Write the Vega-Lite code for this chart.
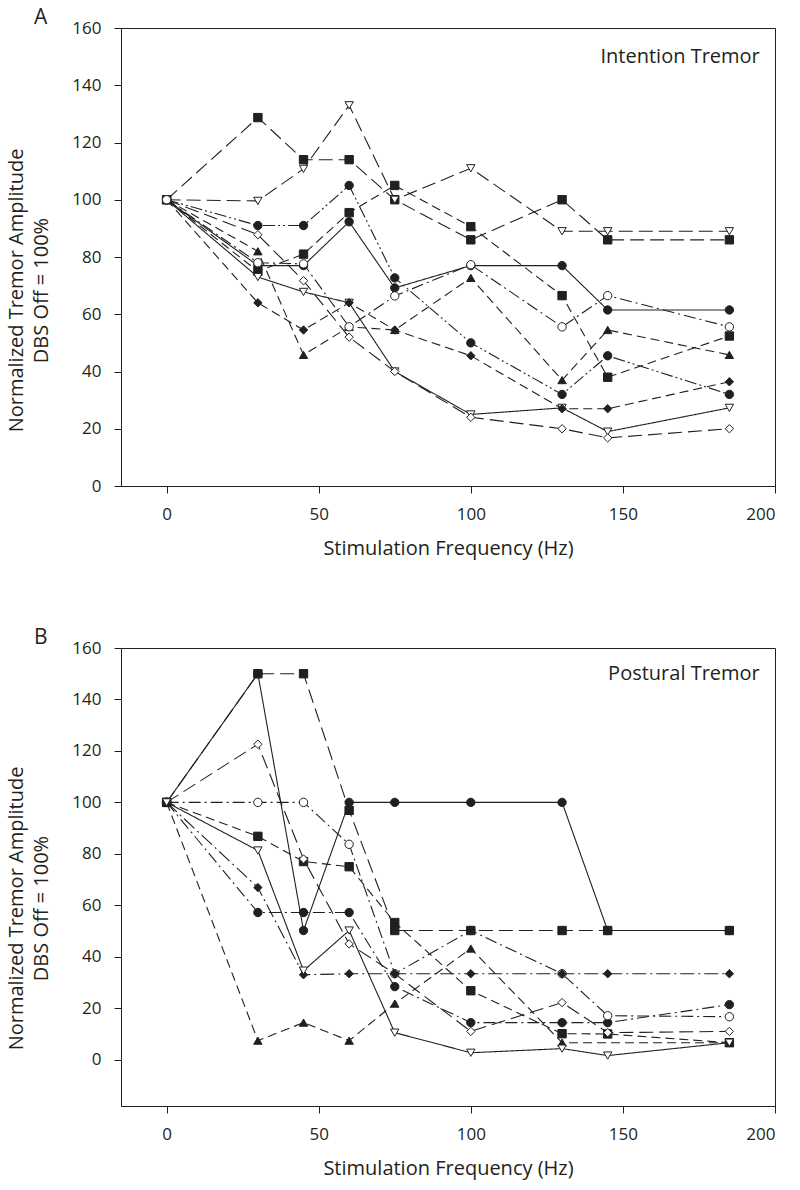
{
  "$schema": "https://vega.github.io/schema/vega-lite/v6.json",
  "background": "white",
  "padding": {"left": 6, "top": 6, "right": 5, "bottom": 5},
  "config": {
    "font": "Open Sans",
    "view": {"stroke": "#231f20", "strokeWidth": 1},
    "axis": {"domainColor": "#231f20", "tickColor": "#231f20", "labelColor": "#231f20", "titleColor": "#231f20", "labelFont": "Open Sans", "titleFont": "Open Sans", "labelFontSize": 17, "titleFontSize": 20, "titleFontWeight": "normal", "grid": false, "tickSize": 7, "labelPadding": 13},
    "title": {"font": "Open Sans", "fontSize": 21, "fontWeight": "normal", "color": "#231f20"}
  },
  "datasets": {"tremor": [
    {"panel":"A","series":"A1","freq":0,"amp":100},{"panel":"A","series":"A1","freq":30,"amp":128.7},{"panel":"A","series":"A1","freq":45,"amp":114},{"panel":"A","series":"A1","freq":60,"amp":114},{"panel":"A","series":"A1","freq":75,"amp":100},{"panel":"A","series":"A1","freq":100,"amp":86},{"panel":"A","series":"A1","freq":130,"amp":100},{"panel":"A","series":"A1","freq":145,"amp":86},{"panel":"A","series":"A1","freq":185,"amp":86},
    {"panel":"A","series":"A2","freq":0,"amp":100},{"panel":"A","series":"A2","freq":30,"amp":75},{"panel":"A","series":"A2","freq":45,"amp":81},{"panel":"A","series":"A2","freq":60,"amp":95.5},{"panel":"A","series":"A2","freq":75,"amp":105},{"panel":"A","series":"A2","freq":100,"amp":90.6},{"panel":"A","series":"A2","freq":130,"amp":66.5},{"panel":"A","series":"A2","freq":145,"amp":38},{"panel":"A","series":"A2","freq":185,"amp":52.4},
    {"panel":"A","series":"A3","freq":0,"amp":100},{"panel":"A","series":"A3","freq":30,"amp":99.6},{"panel":"A","series":"A3","freq":45,"amp":110.8},{"panel":"A","series":"A3","freq":60,"amp":133},{"panel":"A","series":"A3","freq":75,"amp":100},{"panel":"A","series":"A3","freq":100,"amp":111},{"panel":"A","series":"A3","freq":130,"amp":89},{"panel":"A","series":"A3","freq":145,"amp":89},{"panel":"A","series":"A3","freq":185,"amp":89},
    {"panel":"A","series":"A4","freq":0,"amp":100},{"panel":"A","series":"A4","freq":30,"amp":73},{"panel":"A","series":"A4","freq":45,"amp":67.8},{"panel":"A","series":"A4","freq":60,"amp":64},{"panel":"A","series":"A4","freq":75,"amp":40},{"panel":"A","series":"A4","freq":100,"amp":25},{"panel":"A","series":"A4","freq":130,"amp":27.3},{"panel":"A","series":"A4","freq":145,"amp":19},{"panel":"A","series":"A4","freq":185,"amp":27.3},
    {"panel":"A","series":"A5","freq":0,"amp":100},{"panel":"A","series":"A5","freq":30,"amp":87.8},{"panel":"A","series":"A5","freq":45,"amp":71.7},{"panel":"A","series":"A5","freq":60,"amp":52},{"panel":"A","series":"A5","freq":75,"amp":40},{"panel":"A","series":"A5","freq":100,"amp":24},{"panel":"A","series":"A5","freq":130,"amp":20},{"panel":"A","series":"A5","freq":145,"amp":16.8},{"panel":"A","series":"A5","freq":185,"amp":20},
    {"panel":"A","series":"A6","freq":0,"amp":100},{"panel":"A","series":"A6","freq":30,"amp":64},{"panel":"A","series":"A6","freq":45,"amp":54.5},{"panel":"A","series":"A6","freq":60,"amp":64},{"panel":"A","series":"A6","freq":75,"amp":54.5},{"panel":"A","series":"A6","freq":100,"amp":45.5},{"panel":"A","series":"A6","freq":130,"amp":27},{"panel":"A","series":"A6","freq":145,"amp":27},{"panel":"A","series":"A6","freq":185,"amp":36.4},
    {"panel":"A","series":"A7","freq":0,"amp":100},{"panel":"A","series":"A7","freq":30,"amp":82},{"panel":"A","series":"A7","freq":45,"amp":45.8},{"panel":"A","series":"A7","freq":60,"amp":55.6},{"panel":"A","series":"A7","freq":75,"amp":54.5},{"panel":"A","series":"A7","freq":100,"amp":72.7},{"panel":"A","series":"A7","freq":130,"amp":37},{"panel":"A","series":"A7","freq":145,"amp":54.5},{"panel":"A","series":"A7","freq":185,"amp":45.8},
    {"panel":"A","series":"A8","freq":0,"amp":100},{"panel":"A","series":"A8","freq":30,"amp":91},{"panel":"A","series":"A8","freq":45,"amp":91},{"panel":"A","series":"A8","freq":60,"amp":105},{"panel":"A","series":"A8","freq":75,"amp":72.7},{"panel":"A","series":"A8","freq":100,"amp":50},{"panel":"A","series":"A8","freq":130,"amp":32},{"panel":"A","series":"A8","freq":145,"amp":45.5},{"panel":"A","series":"A8","freq":185,"amp":32},
    {"panel":"A","series":"A9","freq":0,"amp":100},{"panel":"A","series":"A9","freq":30,"amp":77},{"panel":"A","series":"A9","freq":45,"amp":77},{"panel":"A","series":"A9","freq":60,"amp":92.3},{"panel":"A","series":"A9","freq":75,"amp":69.2},{"panel":"A","series":"A9","freq":100,"amp":77},{"panel":"A","series":"A9","freq":130,"amp":77},{"panel":"A","series":"A9","freq":145,"amp":61.5},{"panel":"A","series":"A9","freq":185,"amp":61.5},
    {"panel":"A","series":"A10","freq":0,"amp":100},{"panel":"A","series":"A10","freq":30,"amp":78},{"panel":"A","series":"A10","freq":45,"amp":77.6},{"panel":"A","series":"A10","freq":60,"amp":55.6},{"panel":"A","series":"A10","freq":75,"amp":66.4},{"panel":"A","series":"A10","freq":100,"amp":77.3},{"panel":"A","series":"A10","freq":130,"amp":55.6},{"panel":"A","series":"A10","freq":145,"amp":66.5},{"panel":"A","series":"A10","freq":185,"amp":55.6},
    {"panel":"B","series":"B1","freq":0,"amp":100},{"panel":"B","series":"B1","freq":30,"amp":150},{"panel":"B","series":"B1","freq":45,"amp":50.2},{"panel":"B","series":"B1","freq":60,"amp":100},{"panel":"B","series":"B1","freq":75,"amp":100},{"panel":"B","series":"B1","freq":100,"amp":100},{"panel":"B","series":"B1","freq":130,"amp":100},{"panel":"B","series":"B1","freq":145,"amp":50.2},{"panel":"B","series":"B1","freq":185,"amp":50.2},
    {"panel":"B","series":"B2","freq":0,"amp":100},{"panel":"B","series":"B2","freq":30,"amp":57.2},{"panel":"B","series":"B2","freq":45,"amp":57.2},{"panel":"B","series":"B2","freq":60,"amp":57.2},{"panel":"B","series":"B2","freq":75,"amp":28.4},{"panel":"B","series":"B2","freq":100,"amp":14.4},{"panel":"B","series":"B2","freq":130,"amp":14.4},{"panel":"B","series":"B2","freq":145,"amp":14.4},{"panel":"B","series":"B2","freq":185,"amp":21.4},
    {"panel":"B","series":"B3","freq":0,"amp":100},{"panel":"B","series":"B3","freq":30,"amp":100},{"panel":"B","series":"B3","freq":45,"amp":100},{"panel":"B","series":"B3","freq":60,"amp":83.7},{"panel":"B","series":"B3","freq":75,"amp":33.4},{"panel":"B","series":"B3","freq":100,"amp":50.2},{"panel":"B","series":"B3","freq":130,"amp":33.4},{"panel":"B","series":"B3","freq":145,"amp":17.1},{"panel":"B","series":"B3","freq":185,"amp":16.7},
    {"panel":"B","series":"B4","freq":0,"amp":100},{"panel":"B","series":"B4","freq":30,"amp":150},{"panel":"B","series":"B4","freq":45,"amp":150},{"panel":"B","series":"B4","freq":60,"amp":96.9},{"panel":"B","series":"B4","freq":75,"amp":50.2},{"panel":"B","series":"B4","freq":100,"amp":50.2},{"panel":"B","series":"B4","freq":130,"amp":50.2},{"panel":"B","series":"B4","freq":145,"amp":50.2},{"panel":"B","series":"B4","freq":185,"amp":50.2},
    {"panel":"B","series":"B5","freq":0,"amp":100},{"panel":"B","series":"B5","freq":30,"amp":86.8},{"panel":"B","series":"B5","freq":45,"amp":77},{"panel":"B","series":"B5","freq":60,"amp":75},{"panel":"B","series":"B5","freq":75,"amp":53.3},{"panel":"B","series":"B5","freq":100,"amp":26.8},{"panel":"B","series":"B5","freq":130,"amp":10.1},{"panel":"B","series":"B5","freq":145,"amp":10},{"panel":"B","series":"B5","freq":185,"amp":6.6},
    {"panel":"B","series":"B6","freq":0,"amp":100},{"panel":"B","series":"B6","freq":30,"amp":122.6},{"panel":"B","series":"B6","freq":45,"amp":78},{"panel":"B","series":"B6","freq":60,"amp":45},{"panel":"B","series":"B6","freq":75,"amp":33.4},{"panel":"B","series":"B6","freq":100,"amp":11},{"panel":"B","series":"B6","freq":130,"amp":22.2},{"panel":"B","series":"B6","freq":145,"amp":10.5},{"panel":"B","series":"B6","freq":185,"amp":11},
    {"panel":"B","series":"B7","freq":0,"amp":100},{"panel":"B","series":"B7","freq":30,"amp":66.9},{"panel":"B","series":"B7","freq":45,"amp":33},{"panel":"B","series":"B7","freq":60,"amp":33.4},{"panel":"B","series":"B7","freq":75,"amp":33.4},{"panel":"B","series":"B7","freq":100,"amp":33.4},{"panel":"B","series":"B7","freq":130,"amp":33.4},{"panel":"B","series":"B7","freq":145,"amp":33.4},{"panel":"B","series":"B7","freq":185,"amp":33.4},
    {"panel":"B","series":"B8","freq":0,"amp":100},{"panel":"B","series":"B8","freq":30,"amp":7.4},{"panel":"B","series":"B8","freq":45,"amp":14.4},{"panel":"B","series":"B8","freq":60,"amp":7.4},{"panel":"B","series":"B8","freq":75,"amp":21.8},{"panel":"B","series":"B8","freq":100,"amp":43.2},{"panel":"B","series":"B8","freq":130,"amp":6.6},{"panel":"B","series":"B8","freq":185,"amp":6.6},
    {"panel":"B","series":"B9","freq":0,"amp":100},{"panel":"B","series":"B9","freq":30,"amp":81.3},{"panel":"B","series":"B9","freq":45,"amp":34.6},{"panel":"B","series":"B9","freq":60,"amp":50.2},{"panel":"B","series":"B9","freq":75,"amp":10.5},{"panel":"B","series":"B9","freq":100,"amp":2.7},{"panel":"B","series":"B9","freq":130,"amp":4.3},{"panel":"B","series":"B9","freq":145,"amp":1.6},{"panel":"B","series":"B9","freq":185,"amp":6.6}
  ],
  "labelsA": [{"label": "Intention Tremor"}],
  "labelsB": [{"label": "Postural Tremor"}]},
  "resolve": {"scale": {"x": "independent", "y": "independent", "shape": "independent", "fill": "independent", "strokeDash": "independent"}},
  "spacing": 67,
  "vconcat": [
    {
      "width": 654, "height": 458,
      "title": {"text": "A", "anchor": "start", "frame": "group", "dx": -87, "offset": 0, "dy": 9},
      "layer": [
        {"data": {"name": "tremor"}, "transform": [{"filter": "datum.panel === 'A'"}], "mark": {"type": "line", "color": "#231f20", "strokeWidth": 1.1},
         "encoding": {
           "x": {"field": "freq", "type": "quantitative", "scale": {"domain": [-15, 200], "nice": false, "zero": false}, "axis": {"values": [0, 50, 100, 150, 200], "title": "Stimulation Frequency (Hz)", "titlePadding": 16}},
           "y": {"field": "amp", "type": "quantitative", "scale": {"domain": [0, 160], "nice": false}, "axis": {"values": [0, 20, 40, 60, 80, 100, 120, 140, 160], "title": ["Normalized Tremor Amplitude", "DBS Off = 100%"], "titleLineHeight": 25, "titlePadding": 20, "titleY": 262}},
           "detail": {"field": "series"},
           "strokeDash": {"field": "series", "type": "nominal", "legend": null, "scale": {"domain": ["A1","A2","A3","A4","A5","A6","A7","A8","A9","A10"], "range": [[14,6],[9,5],[14,6],[1,0],[14,6],[9,5],[9,5],[12,3,2,3,2,3],[1,0],[12,4,2,4]]}}}},
        {"data": {"name": "tremor"}, "transform": [{"filter": "datum.panel === 'A'"}], "mark": {"type": "point", "filled": true, "stroke": "#231f20", "strokeWidth": 1, "size": 70, "opacity": 1},
         "encoding": {
           "x": {"field": "freq", "type": "quantitative"},
           "y": {"field": "amp", "type": "quantitative"},
           "shape": {"field": "series", "type": "nominal", "legend": null, "scale": {"domain": ["A1","A2","A3","A4","A5","A6","A7","A8","A9","A10"], "range": ["square","square","triangle-down","triangle-down","diamond","diamond","triangle-up","circle","circle","circle"]}},
           "fill": {"field": "series", "type": "nominal", "legend": null, "scale": {"domain": ["A1","A2","A3","A4","A5","A6","A7","A8","A9","A10"], "range": ["#231f20","#231f20","white","white","white","#231f20","#231f20","#231f20","#231f20","white"]}}}},
        {"data": {"name": "labelsA"}, "mark": {"type": "text", "align": "right", "baseline": "middle", "fontSize": 20, "color": "#231f20", "font": "Open Sans"},
         "encoding": {"x": {"datum": 195, "type": "quantitative"}, "y": {"datum": 150, "type": "quantitative"}, "text": {"field": "label", "type": "nominal"}}}
      ]
    },
    {
      "width": 654, "height": 458,
      "title": {"text": "B", "anchor": "start", "frame": "group", "dx": -87, "offset": 0, "dy": 9},
      "layer": [
        {"data": {"name": "tremor"}, "transform": [{"filter": "datum.panel === 'B'"}], "mark": {"type": "line", "color": "#231f20", "strokeWidth": 1.1},
         "encoding": {
           "x": {"field": "freq", "type": "quantitative", "scale": {"domain": [-15, 200], "nice": false, "zero": false}, "axis": {"values": [0, 50, 100, 150, 200], "title": "Stimulation Frequency (Hz)", "titlePadding": 16}},
           "y": {"field": "amp", "type": "quantitative", "scale": {"domain": [-18, 160], "nice": false, "zero": false}, "axis": {"values": [0, 20, 40, 60, 80, 100, 120, 140, 160], "title": ["Normalized Tremor Amplitude", "DBS Off = 100%"], "titleLineHeight": 25, "titlePadding": 20, "titleY": 260}},
           "detail": {"field": "series"},
           "strokeDash": {"field": "series", "type": "nominal", "legend": null, "scale": {"domain": ["B1","B2","B3","B4","B5","B6","B7","B8","B9"], "range": [[1,0],[12,4,2,4],[12,4,2,4],[14,6],[9,5],[14,6],[14,4,2,4],[9,5],[1,0]]}}}},
        {"data": {"name": "tremor"}, "transform": [{"filter": "datum.panel === 'B'"}], "mark": {"type": "point", "filled": true, "stroke": "#231f20", "strokeWidth": 1, "size": 70, "opacity": 1},
         "encoding": {
           "x": {"field": "freq", "type": "quantitative"},
           "y": {"field": "amp", "type": "quantitative"},
           "shape": {"field": "series", "type": "nominal", "legend": null, "scale": {"domain": ["B1","B2","B3","B4","B5","B6","B7","B8","B9"], "range": ["circle","circle","circle","square","square","diamond","diamond","triangle-up","triangle-down"]}},
           "fill": {"field": "series", "type": "nominal", "legend": null, "scale": {"domain": ["B1","B2","B3","B4","B5","B6","B7","B8","B9"], "range": ["#231f20","#231f20","white","#231f20","#231f20","white","#231f20","#231f20","white"]}}}},
        {"data": {"name": "labelsB"}, "mark": {"type": "text", "align": "right", "baseline": "middle", "fontSize": 20, "color": "#231f20", "font": "Open Sans"},
         "encoding": {"x": {"datum": 195, "type": "quantitative"}, "y": {"datum": 150, "type": "quantitative"}, "text": {"field": "label", "type": "nominal"}}}
      ]
    }
  ]
}
